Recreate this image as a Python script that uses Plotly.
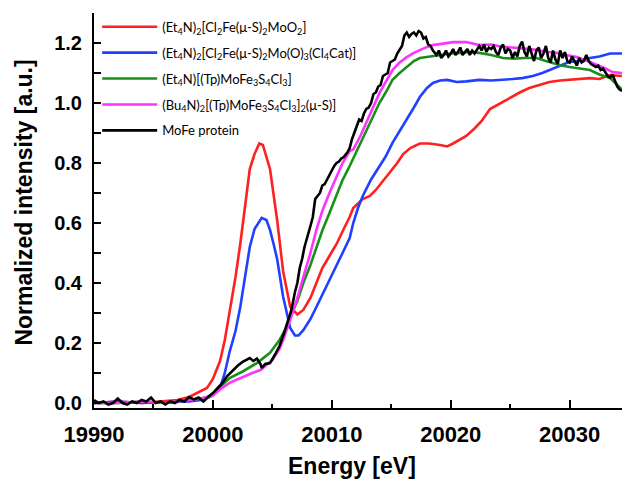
import plotly.graph_objects as go

# ---------------- data ----------------
red_x = [19990, 19992, 19994, 19996, 19997, 19998, 19998.8, 19999.5, 20000, 20000.6, 20001, 20001.4,
         20001.9, 20002.3, 20002.7, 20003.1, 20003.5, 20003.9, 20004.2, 20004.8, 20005.4, 20005.9,
         20006.5, 20007.1, 20007.6, 20008.2, 20008.7, 20009.2, 20009.8, 20010.4, 20011, 20011.5,
         20011.8, 20012.6, 20013.2, 20013.7, 20014.3, 20014.9, 20015.5, 20016, 20016.6, 20017.4,
         20018.2, 20019.1, 20019.7, 20020.2, 20020.8, 20021.3, 20022, 20022.6, 20023.3, 20024.2,
         20025, 20025.8, 20026.6, 20027.5, 20028.3, 20029.2, 20030, 20030.8, 20031.7, 20032.5,
         20033.4, 20034.4]
red_y = [0.0, 0.005, 0.0, 0.005, 0.01, 0.02, 0.035, 0.05, 0.08, 0.14, 0.21, 0.30,
         0.42, 0.53, 0.66, 0.78, 0.83, 0.865, 0.86, 0.78, 0.61, 0.44,
         0.32, 0.295, 0.31, 0.35, 0.40, 0.45, 0.49, 0.53, 0.58, 0.62,
         0.65, 0.68, 0.69, 0.71, 0.74, 0.77, 0.80, 0.83, 0.85, 0.865,
         0.865, 0.86, 0.855, 0.865, 0.88, 0.89, 0.915, 0.94, 0.98, 1.0,
         1.02, 1.035, 1.05, 1.06, 1.07, 1.075, 1.077, 1.08, 1.083, 1.08,
         1.093, 1.09]

blue_x = [19990, 19992, 19994, 19996, 19998, 19999, 19999.8, 20000.6, 20001, 20001.4, 20001.9,
          20002.3, 20002.7, 20003.1, 20003.5, 20004.1, 20004.5, 20004.8, 20005.1, 20005.4, 20005.9,
          20006.5, 20006.9, 20007.2, 20007.6, 20008.2, 20008.7, 20009.2, 20009.8, 20010.3, 20010.9,
          20011.5, 20011.8, 20012.2, 20012.6, 20013.3, 20014, 20014.5, 20015.1, 20015.7, 20016.3,
          20016.9, 20017.4, 20018, 20018.5, 20019.1, 20019.7, 20020.5, 20021.3, 20022.4, 20023.4,
          20024.4, 20025.2, 20026, 20026.9, 20027.7, 20028.3, 20028.9, 20029.5, 20030, 20030.8,
          20031.7, 20032.5, 20033.4, 20034.4]
blue_y = [0.0, 0.005, 0.0, 0.003, 0.005, 0.01, 0.025, 0.05, 0.1, 0.17, 0.24,
          0.32, 0.42, 0.52, 0.58, 0.617, 0.61, 0.577, 0.53, 0.48, 0.355,
          0.25, 0.225, 0.225, 0.243, 0.28, 0.32, 0.36, 0.41, 0.45, 0.50,
          0.55, 0.60, 0.65, 0.69, 0.745, 0.787, 0.82, 0.867, 0.905, 0.943,
          0.985, 1.02, 1.05, 1.067, 1.075, 1.077, 1.07, 1.072, 1.077, 1.075,
          1.077, 1.08, 1.083, 1.09, 1.10, 1.11, 1.12, 1.13, 1.137, 1.14,
          1.15, 1.155, 1.165, 1.165]

green_x = [19990, 19992, 19994, 19996, 19998, 19999, 19999.75, 20000.6, 20001.4, 20002.5, 20003.7,
           20004.8, 20005.6, 20006.1, 20006.5, 20007.1, 20007.6, 20008.2, 20008.7, 20009.2, 20009.8,
           20010.4, 20010.9, 20011.5, 20012.2, 20012.9, 20013.5, 20014, 20014.6, 20015.1, 20015.7,
           20016.3, 20016.9, 20017.4, 20018.2, 20019.1, 20020, 20020.8, 20021.6, 20022.4, 20023.4,
           20024.4, 20025.3, 20026.2, 20027.2, 20028, 20028.6, 20029.3, 20030, 20030.8, 20031.7,
           20032.5, 20033.4, 20034.4]
green_y = [0.0, 0.0, 0.005, 0.0, 0.01, 0.015, 0.02, 0.053, 0.083, 0.105, 0.133,
           0.167, 0.21, 0.245, 0.287, 0.34, 0.40, 0.46, 0.52, 0.575, 0.633,
           0.69, 0.743, 0.79, 0.85, 0.91, 0.96, 1.0, 1.04, 1.077, 1.10,
           1.12, 1.14, 1.15, 1.155, 1.16, 1.165, 1.167, 1.17, 1.167, 1.16,
           1.15, 1.148, 1.15, 1.15, 1.14, 1.133, 1.125, 1.12, 1.115, 1.11,
           1.095, 1.083, 1.045]

magenta_x = [19990, 19992, 19994, 19996, 19998, 19999, 20000, 20000.6, 20001.4, 20002.5, 20003.3,
             20004, 20005, 20005.6, 20005.9, 20006.5, 20007.1, 20007.6, 20008.2, 20008.7, 20009.2,
             20009.8, 20010.4, 20010.9, 20011.5, 20011.8, 20012.4, 20012.9, 20013.5, 20014, 20014.6,
             20015.1, 20015.7, 20016.3, 20016.9, 20017.4, 20018, 20018.5, 20019.3, 20020.2, 20021.3,
             20022.4, 20023.4, 20024.4, 20025.8, 20027.2, 20028.1, 20028.9, 20029.7, 20030.6, 20031.5,
             20032.3, 20033, 20033.6, 20034.4]
magenta_y = [0.0, 0.0, 0.005, 0.0, 0.01, 0.015, 0.025, 0.045, 0.067, 0.087, 0.10,
             0.11, 0.143, 0.18, 0.21, 0.277, 0.35, 0.42, 0.50, 0.577, 0.64,
             0.70, 0.755, 0.80, 0.84, 0.845, 0.89, 0.933, 0.985, 1.033, 1.075,
             1.11, 1.135, 1.153, 1.167, 1.177, 1.187, 1.193, 1.198, 1.203, 1.203,
             1.193, 1.195, 1.187, 1.183, 1.177, 1.17, 1.167, 1.16, 1.153, 1.14,
             1.127, 1.115, 1.103, 1.10]

black_x = [19990, 19990.4, 19990.8, 19991.2, 19991.6, 19992, 19992.4, 19992.8, 19993.2, 19993.6,
           19994, 19994.4, 19994.8, 19995.2, 19995.6, 19996, 19996.4, 19996.8, 19997.2, 19997.6,
           19998, 19998.4, 19998.8, 19999.2, 19999.6, 20000, 20000.4, 20000.8, 20001.2, 20001.7,
           20002.1, 20002.5, 20002.8, 20003.1, 20003.4, 20003.7, 20004.0, 20004.1, 20004.4, 20004.8,
           20005.2, 20005.6, 20006.0, 20006.3, 20006.6, 20006.9, 20007.1, 20007.3, 20007.5, 20007.7,
           20007.9, 20008.2, 20008.4, 20008.6, 20008.8, 20009.0, 20009.2, 20009.4, 20009.6, 20009.8,
           20010.0, 20010.2, 20010.4, 20010.6, 20010.8, 20011.0, 20011.3, 20011.5, 20011.7, 20011.9,
           20012.1, 20012.3, 20012.5, 20012.7, 20012.9, 20013.1, 20013.3, 20013.5, 20013.7, 20013.9,
           20014.1, 20014.3, 20014.5, 20014.7, 20014.9, 20015.1, 20015.3, 20015.5, 20015.7, 20015.9,
           20016.1, 20016.3, 20016.5, 20016.7, 20016.9, 20017.1, 20017.3, 20017.5, 20017.7, 20017.9,
           20018.1, 20018.3, 20018.5, 20018.7, 20018.8, 20019.0, 20019.2, 20019.4, 20019.6, 20019.8,
           20020.0, 20020.2, 20020.4, 20020.6, 20020.8, 20021.0, 20021.2, 20021.4, 20021.6, 20021.8,
           20022.0, 20022.2, 20022.4, 20022.6, 20022.8, 20023.0, 20023.2, 20023.4, 20023.6, 20023.8,
           20024.0, 20024.2, 20024.4, 20024.6, 20024.8, 20025.0, 20025.2, 20025.4, 20025.6, 20025.8,
           20026.0, 20026.2, 20026.4, 20026.6, 20026.8, 20027.0, 20027.2, 20027.4, 20027.6, 20027.8,
           20028.0, 20028.2, 20028.4, 20028.6, 20028.8, 20029.0, 20029.2, 20029.4, 20029.6, 20029.8,
           20030.0, 20030.2, 20030.4, 20030.6, 20030.8, 20031.0, 20031.2, 20031.4, 20031.6, 20031.8,
           20032.0, 20032.2, 20032.4, 20032.6, 20032.8, 20033.0, 20033.2, 20033.4, 20033.6, 20033.8,
           20034.0, 20034.2, 20034.4]
black_y = [0.01, 0.0, 0.005, -0.005, 0.0, 0.015, 0.0, -0.005, 0.005, 0.0,
           0.01, 0.005, 0.018, 0.0, 0.005, -0.005, 0.005, 0.0, 0.01, 0.005,
           0.02, 0.012, 0.018, 0.005, 0.02, 0.033, 0.05, 0.067, 0.09, 0.11,
           0.125, 0.137, 0.145, 0.15, 0.14, 0.148, 0.13, 0.117, 0.13, 0.133,
           0.16, 0.19, 0.235, 0.27, 0.31, 0.37, 0.40, 0.45, 0.48, 0.52,
           0.545, 0.59, 0.62, 0.68, 0.69, 0.70, 0.725, 0.73, 0.745, 0.76,
           0.78, 0.79, 0.80, 0.805, 0.815, 0.82, 0.835, 0.85, 0.88, 0.90,
           0.92, 0.945, 0.94, 0.965, 0.98, 0.985, 1.0, 1.03, 1.035, 1.055,
           1.06, 1.09, 1.095, 1.10, 1.135, 1.14, 1.145, 1.165, 1.18, 1.19,
           1.225, 1.235, 1.22, 1.23, 1.235, 1.225, 1.24, 1.235, 1.215, 1.22,
           1.195, 1.19, 1.175, 1.165, 1.16, 1.175, 1.15, 1.16, 1.175, 1.155,
           1.165, 1.18, 1.16, 1.17, 1.185, 1.16, 1.17, 1.18, 1.16, 1.175,
           1.165, 1.18, 1.19, 1.175, 1.195, 1.17, 1.185, 1.18, 1.19, 1.17,
           1.16, 1.185, 1.195, 1.165, 1.18, 1.175, 1.15, 1.17, 1.155, 1.19,
           1.205, 1.17, 1.155, 1.19, 1.165, 1.14, 1.175, 1.185, 1.15, 1.165,
           1.19, 1.15, 1.135, 1.175, 1.145, 1.13, 1.175, 1.15, 1.17, 1.14,
           1.135, 1.155, 1.14, 1.125, 1.15, 1.135, 1.14, 1.16, 1.14, 1.13,
           1.125, 1.12, 1.125, 1.11, 1.115, 1.10, 1.09, 1.085, 1.095, 1.075,
           1.055, 1.045, 1.04]

names = [
    "(Et<sub>4</sub>N)<sub>2</sub>[Cl<sub>2</sub>Fe(μ-S)<sub>2</sub>MoO<sub>2</sub>]",
    "(Et<sub>4</sub>N)<sub>2</sub>[Cl<sub>2</sub>Fe(μ-S)<sub>2</sub>Mo(O)<sub>3</sub>(Cl<sub>4</sub>Cat)]",
    "(Et<sub>4</sub>N)[(Tp)MoFe<sub>3</sub>S<sub>4</sub>Cl<sub>3</sub>]",
    "(Bu<sub>4</sub>N)<sub>2</sub>[(Tp)MoFe<sub>3</sub>S<sub>4</sub>Cl<sub>3</sub>]<sub>2</sub>(μ-S)]",
    "MoFe protein",
]
colors = ["#ff2020", "#2040ff", "#1a8f1a", "#ff33ff", "#000000"]

x_tickvals = [19990, 20000, 20010, 20020, 20030]
y_tickvals = [0.0, 0.2, 0.4, 0.6, 0.8, 1.0, 1.2]

series = [(red_x, red_y), (blue_x, blue_y), (green_x, green_y), (magenta_x, magenta_y), (black_x, black_y)]

fig = go.Figure()
for i, ((xs, ys), nm, col) in enumerate(zip(series, names, colors)):
    fig.add_trace(go.Scatter(x=xs, y=ys, mode="lines", name=nm, legendgroup=str(i),
                             line=dict(color=col, width=2.6)))

fig.update_layout(
    width=622, height=480,
    margin=dict(l=94, r=0, t=13, b=72),
    paper_bgcolor="white", plot_bgcolor="white",
    showlegend=True,
    legend=dict(x=0.006, y=1.003, xanchor="left", yanchor="top",
                font=dict(family="Lato", size=13, color="black"),
                bgcolor="rgba(0,0,0,0)", tracegroupgap=6, traceorder="grouped",
                itemwidth=55),
    xaxis=dict(range=[19990, 20034.4], showline=True, linecolor="black", linewidth=2,
               ticks="inside", ticklen=8, tickwidth=2, tickcolor="black",
               tickvals=x_tickvals, ticktext=[str(v) for v in x_tickvals],
               minor=dict(dtick=5, ticks="inside", ticklen=4, tickwidth=2, tickcolor="black", showgrid=False),
               showgrid=False, zeroline=False,
               tickfont=dict(family="Liberation Sans", size=22, color="black", weight="bold"),
               ticklabelstandoff=6),
    yaxis=dict(range=[-0.0167, 1.30], showline=True, linecolor="black", linewidth=2,
               ticks="inside", ticklen=7, tickwidth=2, tickcolor="black",
               tickvals=y_tickvals, ticktext=["%.1f" % v for v in y_tickvals],
               minor=dict(tick0=0, dtick=0.1, ticks="inside", ticklen=7, tickwidth=2, tickcolor="black", showgrid=False),
               showgrid=False, zeroline=False,
               tickfont=dict(family="Liberation Sans", size=20, color="black", weight="bold"),
               ticklabelstandoff=6),
    annotations=[
        dict(text="Energy [eV]", x=0.5, y=0, xref="paper", yref="paper", yshift=-58, xshift=-6,
             xanchor="center", yanchor="middle", showarrow=False,
             font=dict(family="Liberation Sans", size=23, color="black", weight="bold")),
        dict(text="Normalized intensity [a.u.]", x=0, y=0.52, xref="paper", yref="paper", xshift=-70,
             xanchor="center", yanchor="middle", showarrow=False, textangle=-90,
             font=dict(family="Liberation Sans", size=23, color="black", weight="bold")),
    ],
)

fig.write_html("out.html", config={"displayModeBar": False},
               post_script="document.body.style.margin='0px';")
